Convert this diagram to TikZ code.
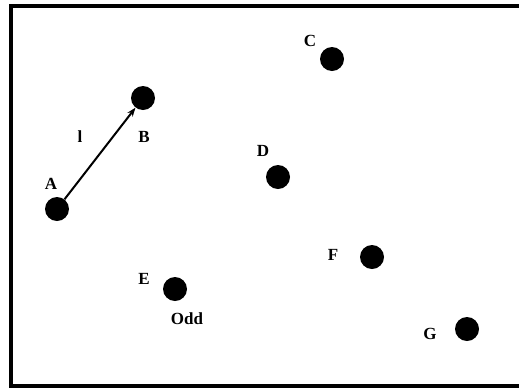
\documentclass[tikz,border=0pt]{standalone}
\usepackage{fontspec}
\setmainfont{Liberation Serif}
\usetikzlibrary{arrows.meta}
\begin{document}
\begin{tikzpicture}[x=1pt,y=-1pt,
  dot/.style={circle,fill=black,inner sep=0pt,minimum size=24pt},
  lbl/.style={font=\fontsize{17}{17}\selectfont\bfseries,inner sep=0pt}]
\useasboundingbox (0,0) rectangle (519,389);
\clip (0,0) rectangle (519,389);
\draw[line width=4.5pt] (525,6) -- (11,6) -- (11,386) -- (525,386);
\node[dot] (A) at (57,209) {};
\node[dot] (B) at (143,98) {};
\node[dot] (C) at (332,59) {};
\node[dot] (D) at (278,177) {};
\node[dot] (E) at (175,289) {};
\node[dot] (F) at (372,257) {};
\node[dot] (G) at (467,329) {};
\node[lbl] (lA) at (51,184) {A};
\node[lbl] (lB) at (144,137) {B};
\node[lbl] (lC) at (310,41) {C};
\node[lbl] (lD) at (263,151) {D};
\node[lbl] (lE) at (144,279) {E};
\node[lbl] (lF) at (333,255) {F};
\node[lbl] (lG) at (430,334) {G};
\node[lbl] (lodd) at (187,319) {Odd};
\node[lbl] (ll) at (80,137) {l};
\draw[line width=2pt,-{Stealth[length=9pt,width=6.5pt]}] (A) -- (B);
\end{tikzpicture}
\end{document}
